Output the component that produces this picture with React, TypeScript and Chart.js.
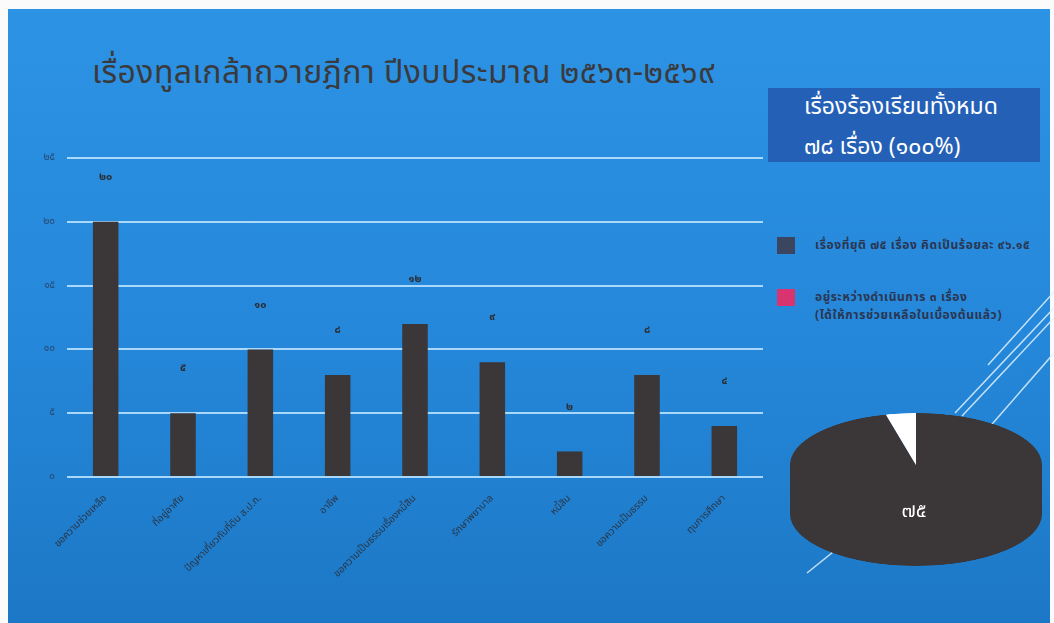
import React, { useEffect, useRef } from 'react';
import { Chart, registerables } from 'chart.js';

Chart.register(...registerables);

// bar chart data
const categories = [
    'ขอความช่วยเหลือ',
    'ที่อยู่อาศัย',
    'ปัญหาเกี่ยวกับที่ดิน ส.ป.ก.',
    'อาชีพ',
    'ขอความเป็นธรรมเรื่องหนี้สิน',
    'รักษาพยาบาล',
    'หนี้สิน',
    'ขอความเป็นธรรม',
    'ทุนการศึกษา'
];
const caseCounts = [20, 5, 10, 8, 12, 9, 2, 8, 4];
const yMax = 25;
const yStep = 5;

// pie chart data
const pieLabels = [
    'เรื่องที่ยุติ ๗๕ เรื่อง คิดเป็นร้อยละ ๙๖.๑๕',
    'อยู่ระหว่างดำเนินการ ๓ เรื่อง\n(ได้ให้การช่วยเหลือในเบื้องต้นแล้ว)'
];
const pieValues = [75, 3];
const pieColors = ['#3b3637', '#ffffff'];
const legendColors = ['#3c4560', '#d8346f'];

const titleText = 'เรื่องทูลเกล้าถวายฎีกา ปีงบประมาณ ๒๕๖๓-๒๕๖๙';
const totalLines = ['เรื่องร้องเรียนทั้งหมด', '๗๘ เรื่อง (๑๐๐%)'];

const FONT = '"Noto Sans Thai", "Noto Sans", "DejaVu Sans", sans-serif';
const thaiDigits = '๐๑๒๓๔๕๖๗๘๙';
const toThai = (v: number | string) => String(v).replace(/\d/g, d => thaiDigits[Number(d)]);

// pie is drawn as a circle and squashed into a flat 3D-looking disc
const PIE_SQUASH = 0.413;
const PIE_DEPTH = 118;

const BarPanel: React.FC = () => {
    const canvasRef = useRef<HTMLCanvasElement>(null);

    useEffect(() => {
        const ctx = canvasRef.current?.getContext('2d');
        if (!ctx) return;

        const valueLabels = {
            id: 'valueLabels',
            afterDatasetsDraw(chart: any) {
                const c = chart.ctx;
                const meta = chart.getDatasetMeta(0);
                c.save();
                c.fillStyle = '#2c2e33';
                c.font = `bold 11px ${FONT}`;
                c.textAlign = 'center';
                c.textBaseline = 'middle';
                meta.data.forEach((bar: any, i: number) => {
                    c.fillText(toThai(caseCounts[i]), bar.x, bar.y - 44);
                });
                c.restore();
            }
        };

        const chart = new Chart(ctx, {
            type: 'bar',
            data: {
                labels: categories,
                datasets: [{
                    data: caseCounts,
                    backgroundColor: '#3b3638',
                    borderWidth: 0,
                    categoryPercentage: 1,
                    barPercentage: 0.33
                }]
            },
            options: {
                responsive: false,
                animation: false,
                layout: { padding: { left: 10, right: 17, top: 17, bottom: 0 } },
                scales: {
                    x: {
                        grid: { display: false },
                        border: { display: false },
                        ticks: {
                            autoSkip: false,
                            minRotation: 45,
                            maxRotation: 45,
                            padding: 8,
                            color: '#2a3646',
                            font: { family: FONT, size: 10 }
                        },
                        afterFit: (scale: any) => { scale.height = 146; }
                    },
                    y: {
                        min: 0,
                        max: yMax,
                        border: { display: false },
                        grid: { color: 'rgba(185, 225, 255, 0.9)', lineWidth: 2, drawTicks: false },
                        ticks: {
                            stepSize: yStep,
                            padding: 12,
                            color: 'rgba(40, 58, 88, 0.8)',
                            font: { family: FONT, size: 10 },
                            callback: (v: any) => toThai(v)
                        },
                        afterFit: (scale: any) => { scale.width = 57; }
                    }
                },
                plugins: {
                    legend: { display: false },
                    tooltip: { enabled: false }
                }
            },
            plugins: [valueLabels]
        });

        return () => chart.destroy();
    }, []);

    return (
        <canvas
            ref={canvasRef}
            width={780}
            height={483}
            style={{ position: 'absolute', left: 0, top: 140 }}
        />
    );
};

const PiePanel: React.FC = () => {
    const canvasRef = useRef<HTMLCanvasElement>(null);

    useEffect(() => {
        const ctx = canvasRef.current?.getContext('2d');
        if (!ctx) return;

        // side wall of the disc, drawn under the slices
        const discSide = {
            id: 'discSide',
            beforeDatasetsDraw(chart: any) {
                const arc = chart.getDatasetMeta(0).data[0];
                if (!arc) return;
                const c = chart.ctx;
                const r = arc.outerRadius;
                c.save();
                c.fillStyle = pieColors[0];
                c.fillRect(arc.x - r, arc.y, r * 2, PIE_DEPTH);
                c.beginPath();
                c.arc(arc.x, arc.y + PIE_DEPTH, r, 0, Math.PI * 2);
                c.fill();
                c.restore();
            },
            afterDatasetsDraw(chart: any) {
                const arc = chart.getDatasetMeta(0).data[0];
                if (!arc) return;
                const c = chart.ctx;
                c.save();
                c.translate(arc.x - 2, arc.y + 116);
                c.scale(1, 1 / PIE_SQUASH);
                c.fillStyle = '#ffffff';
                c.font = `20px ${FONT}`;
                c.textAlign = 'center';
                c.textBaseline = 'middle';
                c.fillText(toThai(pieValues[0]), 0, 0);
                c.restore();
            }
        };

        const chart = new Chart(ctx, {
            type: 'pie',
            data: {
                labels: pieLabels,
                datasets: [{
                    data: pieValues,
                    backgroundColor: pieColors,
                    borderWidth: 0
                }]
            },
            options: {
                responsive: false,
                animation: false,
                layout: { padding: { top: 5, left: 5, right: 5, bottom: 5 + PIE_DEPTH } },
                plugins: {
                    legend: { display: false },
                    tooltip: { enabled: false }
                }
            },
            plugins: [discSide]
        });

        return () => chart.destroy();
    }, []);

    return (
        <div style={{
            position: 'absolute', left: 785, top: 411, width: 262, height: 262 + PIE_DEPTH,
            transform: `scaleY(${PIE_SQUASH})`, transformOrigin: 'top left'
        }}>
            <canvas ref={canvasRef} width={262} height={262 + PIE_DEPTH} />
        </div>
    );
};

export default function App() {
    return (
        <div style={{ position: 'absolute', left: 0, top: 0, width: 1054, height: 623, background: '#fbfbfb', overflow: 'hidden', fontFamily: FONT }}>
            <div style={{
                position: 'absolute', left: 8, top: 9, width: 1042, height: 614,
                background: 'linear-gradient(180deg, #2d93e4 0%, #2587d9 55%, #1c78c6 100%)'
            }} />

            <div style={{ position: 'absolute', left: 92, top: 49, fontSize: 32, letterSpacing: 0.4, color: '#3a3a3c', whiteSpace: 'nowrap' }}>
                {titleText}
            </div>

            <div style={{
                position: 'absolute', left: 768, top: 88, width: 272, height: 74,
                background: '#2461b6', overflow: 'hidden'
            }}>
                {totalLines.map((t, i) => (
                    <div key={i} style={{ position: 'absolute', left: 36, top: i === 0 ? 2 : 42, fontSize: 23, color: '#ffffff', whiteSpace: 'nowrap' }}>
                        {t}
                    </div>
                ))}
            </div>

            {pieLabels.map((label, i) => (
                <div key={i} style={{ position: 'absolute', left: 777, top: i === 0 ? 237 : 289 }}>
                    <div style={{ position: 'absolute', left: 0, top: 0, width: 18, height: 17, background: legendColors[i] }} />
                    <div style={{
                        position: 'absolute', left: 38, top: -1, fontSize: 12, letterSpacing: 0.6, fontWeight: 'bold',
                        color: '#2b3550', whiteSpace: 'pre', lineHeight: '18px'
                    }}>
                        {label}
                    </div>
                </div>
            ))}

            <svg width={1054} height={623} style={{ position: 'absolute', left: 0, top: 0 }}>
                <g stroke="rgba(225, 242, 255, 0.85)" strokeWidth={1.5}>
                    <line x1={988} y1={365} x2={1054} y2={292} />
                    <line x1={955} y1={413} x2={1054} y2={308} />
                    <line x1={962} y1={416} x2={1054} y2={318} />
                    <line x1={993} y1={423} x2={1054} y2={353} />
                    <line x1={807} y1={573} x2={993} y2={423} />
                </g>
            </svg>

            <BarPanel />
            <PiePanel />
        </div>
    );
}
